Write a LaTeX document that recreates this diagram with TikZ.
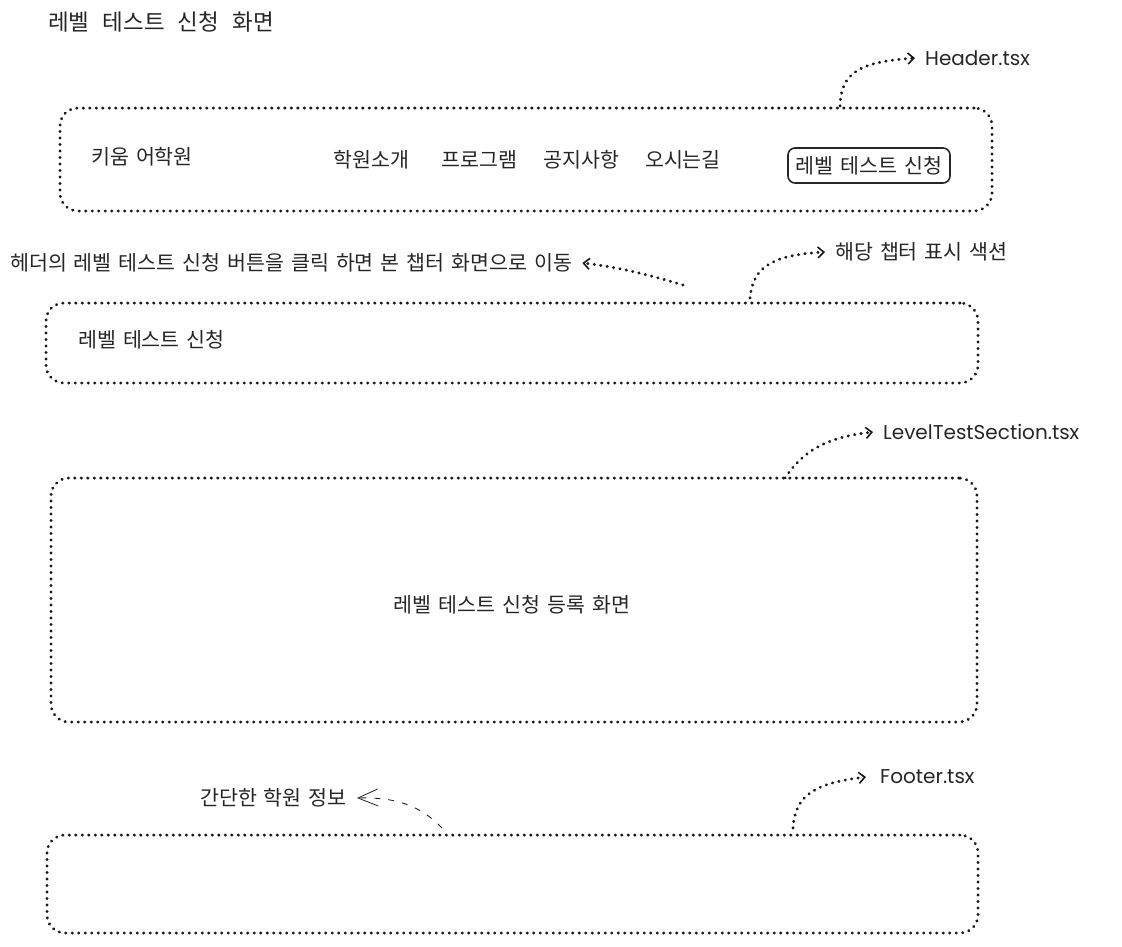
\documentclass[tikz,border=0pt]{standalone}
\usepackage{fontspec}
\setmainfont{Noto Sans CJK KR}[WordSpace=1.5]
\newfontfamily\titlefont{Noto Sans CJK KR}[WordSpace=2.6]
\newfontfamily\latinfont{Poppins}
\usetikzlibrary{arrows.meta}
\begin{document}
\begin{tikzpicture}[x=1pt,y=-1pt,
  txt/.style={font=\fontsize{20.6}{24}\selectfont, inner sep=0pt, anchor=west, text=black!85},
  lab/.style={font=\latinfont\fontsize{20}{24}\selectfont, inner sep=0pt, anchor=west, text=black!85},
  dotbox/.style={draw=black!90, line width=3pt, line cap=round, dash pattern=on 0.3pt off 6.2pt, rounded corners=18pt, inner sep=0pt},
  dotarrow/.style={draw=black!90, line width=3pt, line cap=round, dash pattern=on 0.3pt off 6.2pt, -{Straight Barb[length=6pt,width=11pt,line width=1.6pt]}},
  dasharrow/.style={draw=black!85, line width=0.9pt, dash pattern=on 6pt off 8pt, -{Straight Barb[length=20pt,width=17pt,line width=0.8pt]}},
  btn/.style={draw=black!85, line width=1.6pt, rounded corners=7pt, inner sep=0pt}
]
\useasboundingbox (0,0) rectangle (1122,946);

% title
\node[txt, font=\titlefont\fontsize{22.5}{26}\selectfont] (title) at (48,22) {레벨 테스트 신청 화면};

% header box
\node[dotbox, minimum width=932pt, minimum height=103pt] (header) at (526,159.5) {};
\node[txt] (logo) at (91,157) {키움 어학원};
\node[txt] (menu) at (333,160) {학원소개\hspace{1.6em}프로그램\hspace{1.25em}공지사항\hspace{1.25em}오시는길};
\node[btn, minimum width=162pt, minimum height=35pt] (button) at (869,165.5) {};
\node[txt, anchor=center] (buttontext) at (button.center) {레벨 테스트 신청};

\node[lab] (headerlab) at (925,58) {Header.tsx};
\coordinate (h1) at (840,106);
\draw[dotarrow] (h1) .. controls (841,72) and (860,62) .. ([xshift=-10pt]headerlab.west);

% note
\node[txt] (note) at (10,263) {헤더의 레벨 테스트 신청 버튼을 클릭 하면 본 챕터 화면으로 이동};
\coordinate (n1) at (683,285);
\draw[dotarrow] (n1) .. controls (640,272) and (610,266) .. ([xshift=10pt]note.east);

% chapter section box
\node[dotbox, minimum width=932pt, minimum height=80pt] (chapter) at (512,343) {};
\node[txt] (chaptertext) at (78,340) {레벨 테스트 신청};
\node[txt] (chapterlab) at (835,252) {해당 챕터 표시 색션};
\coordinate (c1) at (750,298);
\draw[dotarrow] (c1) .. controls (753,265) and (775,255) .. ([xshift=-10pt]chapterlab.west);

% level test section
\node[dotbox, minimum width=926pt, minimum height=244pt] (level) at (514,600) {};
\node[txt, anchor=center] (leveltext) at (512,605) {레벨 테스트 신청 등록 화면};
\node[lab] (levellab) at (883,432) {LevelTestSection.tsx};
\coordinate (l1) at (785,478);
\draw[dotarrow] (l1) .. controls (805,448) and (830,437) .. ([xshift=-10pt]levellab.west);

% footer
\node[dotbox, minimum width=931pt, minimum height=98pt] (footer) at (512.5,884) {};
\node[lab] (footerlab) at (880,777) {Footer.tsx};
\coordinate (f1) at (793,828);
\draw[dotarrow] (f1) .. controls (795,795) and (815,783) .. ([xshift=-14pt]footerlab.west);
\node[txt] (info) at (200,798) {간단한 학원 정보};
\coordinate (i1) at (442,828);
\draw[dasharrow] (i1) .. controls (420,805) and (395,797) .. ([xshift=10pt]info.east);
\end{tikzpicture}
\end{document}
